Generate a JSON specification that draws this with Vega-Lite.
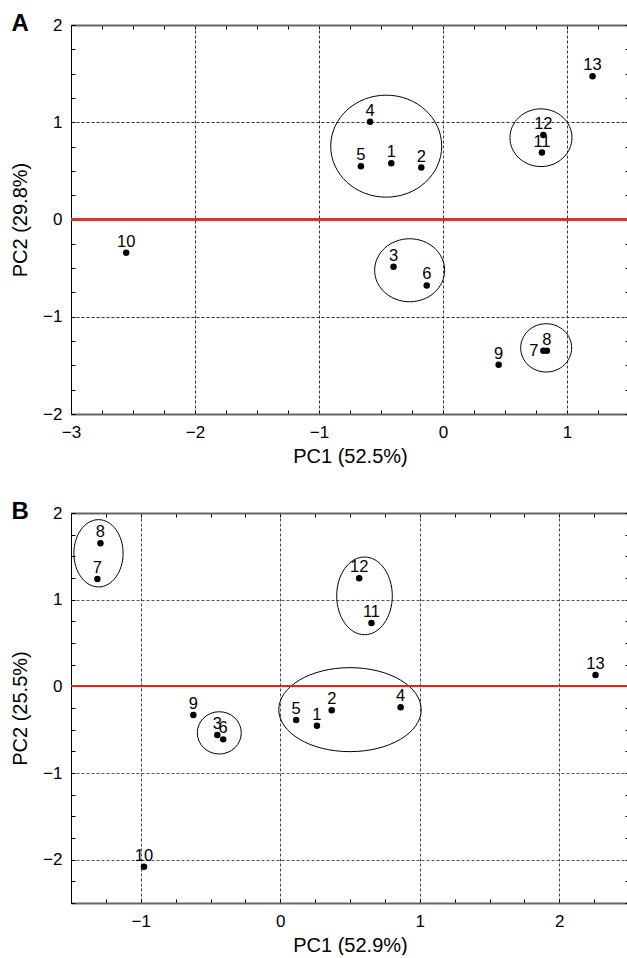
{
  "$schema": "https://vega.github.io/schema/vega-lite/v6.json",
  "padding": {"left": 10, "top": 12, "right": 0, "bottom": 0},
  "spacing": 34,
  "background": "white",
  "config": {
    "view": {"stroke": null},
    "font": "Liberation Sans",
    "axis": {
      "labelFont": "Liberation Sans", "labelFontSize": 17, "labelColor": "#000",
      "titleFont": "Liberation Sans", "titleFontSize": 20, "titleFontWeight": "normal", "titleColor": "#000",
      "tickColor": "#000", "tickSize": -4, "tickWidth": 1,
      "labelOverlap": false, "labelFlush": false, "labelBound": false,
      "gridDash": [3, 2], "gridWidth": 1
    }
  },
  "resolve": {"scale": {"shape": "independent"}},
  "datasets": {
    "pointsA": [
      {"id": "1", "pc1": -0.417, "pc2": 0.579},
      {"id": "2", "pc1": -0.175, "pc2": 0.534},
      {"id": "3", "pc1": -0.399, "pc2": -0.485},
      {"id": "4", "pc1": -0.588, "pc2": 1.005},
      {"id": "5", "pc1": -0.662, "pc2": 0.548},
      {"id": "6", "pc1": -0.131, "pc2": -0.678},
      {"id": "7", "pc1": 0.809, "pc2": -1.349},
      {"id": "8", "pc1": 0.838, "pc2": -1.349},
      {"id": "9", "pc1": 0.449, "pc2": -1.493},
      {"id": "10", "pc1": -2.555, "pc2": -0.342},
      {"id": "11", "pc1": 0.798, "pc2": 0.688},
      {"id": "12", "pc1": 0.809, "pc2": 0.870},
      {"id": "13", "pc1": 1.206, "pc2": 1.473}
    ],
    "ellipsesA": [
      {"grp": "E1", "cx": -0.458, "cy": 0.754},
      {"grp": "E2", "cx": 0.790, "cy": 0.841},
      {"grp": "E3", "cx": -0.269, "cy": -0.522},
      {"grp": "E4", "cx": 0.832, "cy": -1.320}
    ],
    "pointsB": [
      {"id": "1", "pc1": 0.263, "pc2": -0.454},
      {"id": "2", "pc1": 0.369, "pc2": -0.277},
      {"id": "3", "pc1": -0.451, "pc2": -0.562},
      {"id": "4", "pc1": 0.863, "pc2": -0.242},
      {"id": "5", "pc1": 0.114, "pc2": -0.388},
      {"id": "6", "pc1": -0.409, "pc2": -0.612},
      {"id": "7", "pc1": -1.311, "pc2": 1.238},
      {"id": "8", "pc1": -1.289, "pc2": 1.65},
      {"id": "9", "pc1": -0.623, "pc2": -0.331},
      {"id": "10", "pc1": -0.977, "pc2": -2.081},
      {"id": "11", "pc1": 0.654, "pc2": 0.731},
      {"id": "12", "pc1": 0.566, "pc2": 1.246},
      {"id": "13", "pc1": 2.26, "pc2": 0.131}
    ],
    "ellipsesB": [
      {"grp": "E1", "cx": -1.303, "cy": 1.535},
      {"grp": "E2", "cx": 0.604, "cy": 1.044},
      {"grp": "E3", "cx": -0.437, "cy": -0.537},
      {"grp": "E4", "cx": 0.50, "cy": -0.269}
    ]
  },
  "vconcat": [
    {
      "width": 558, "height": 389,
      "title": {"text": "A", "anchor": "start", "frame": "bounds", "fontSize": 24, "fontWeight": "bold", "font": "Liberation Sans", "color": "#000", "offset": 0, "dy": 20, "dx": 1},
      "resolve": {"axis": {"x": "independent", "y": "independent"}},
      "layer": [
        {
          "data": {"name": "pointsA"},
          "mark": {"type": "point", "filled": true, "color": "#000", "opacity": 1, "size": 42},
          "encoding": {
            "x": {"field": "pc1", "type": "quantitative", "scale": {"domain": [-3, 1.5], "nice": false, "zero": false},
                  "axis": {"orient": "bottom", "title": "PC1 (52.5%)", "values": [-3,-2.75,-2.5,-2.25,-2,-1.75,-1.5,-1.25,-1,-0.75,-0.5,-0.25,0,0.25,0.5,0.75,1,1.25,1.5],
                           "labelExpr": "datum.value % 1 === 0 ? format(datum.value, 'd') : ''",
                           "grid": true,
                           "gridColor": {"condition": {"test": "datum.value % 1 === 0", "value": "#333"}, "value": "transparent"},
                           "domainColor": "#666", "domainWidth": 2, "labelPadding": 14, "titlePadding": 6}},
            "y": {"field": "pc2", "type": "quantitative", "scale": {"domain": [-2, 2], "nice": false, "zero": false},
                  "axis": {"orient": "left", "title": "PC2 (29.8%)", "values": [-2,-1.75,-1.5,-1.25,-1,-0.75,-0.5,-0.25,0,0.25,0.5,0.75,1,1.25,1.5,1.75,2],
                           "labelExpr": "datum.value % 1 === 0 ? format(datum.value, 'd') : ''",
                           "grid": true,
                           "gridColor": {"condition": {"test": "datum.value % 1 === 0 && datum.value !== 0", "value": "#333"}, "value": "transparent"},
                           "domainColor": "#000", "domainWidth": 1, "labelPadding": 13, "titlePadding": 12}}
          }
        },
        {
          "data": {"name": "ellipsesA"},
          "mark": {"type": "point", "filled": false, "stroke": "#000", "strokeWidth": 1, "opacity": 1, "size": 10000},
          "encoding": {
            "x": {"field": "cx", "type": "quantitative", "scale": {"domain": [-3, 1.5], "nice": false, "zero": false},
                  "axis": {"orient": "top", "title": null, "labels": false, "grid": false, "values": [-3,-2.75,-2.5,-2.25,-2,-1.75,-1.5,-1.25,-1,-0.75,-0.5,-0.25,0,0.25,0.5,0.75,1,1.25,1.5], "domainColor": "#666", "domainWidth": 2}},
            "y": {"field": "cy", "type": "quantitative", "scale": {"domain": [-2, 2], "nice": false, "zero": false},
                  "axis": {"orient": "right", "title": null, "labels": false, "grid": false, "values": [-2,-1.75,-1.5,-1.25,-1,-0.75,-0.5,-0.25,0,0.25,0.5,0.75,1,1.25,1.5,1.75,2], "domainColor": "#000", "domainWidth": 1}},
            "shape": {"field": "grp", "type": "nominal", "legend": null,
                      "scale": {"domain": ["E1", "E2", "E3", "E4"],
                                "range": ["M -1.11 0 A 1.11 1.02 0 1 0 1.11 0 A 1.11 1.02 0 1 0 -1.11 0 Z",
                                          "M -0.62 0 A 0.62 0.577 0 1 0 0.62 0 A 0.62 0.577 0 1 0 -0.62 0 Z",
                                          "M -0.70 0 A 0.70 0.63 0 1 0 0.70 0 A 0.70 0.63 0 1 0 -0.70 0 Z",
                                          "M -0.51 0 A 0.51 0.483 0 1 0 0.51 0 A 0.51 0.483 0 1 0 -0.51 0 Z"]}}
          }
        },
        {
          "data": {"name": "pointsA"},
          "mark": {"type": "rule", "color": "#cc3838", "strokeWidth": 1.3},
          "encoding": {
            "y": {"datum": 0, "type": "quantitative", "scale": {"domain": [-2, 2], "nice": false, "zero": false}, "axis": null}
          }
        },
        {
          "data": {"name": "pointsA"},
          "transform": [{"filter": "datum.id !== '7'"}],
          "mark": {"type": "text", "fontSize": 16.5, "font": "Liberation Sans", "color": "#000", "align": "center", "baseline": "alphabetic", "dy": -6},
          "encoding": {
            "x": {"field": "pc1", "type": "quantitative", "scale": {"domain": [-3, 1.5], "nice": false, "zero": false}, "axis": null},
            "y": {"field": "pc2", "type": "quantitative", "scale": {"domain": [-2, 2], "nice": false, "zero": false}, "axis": null},
            "text": {"field": "id"}
          }
        },
        {
          "data": {"name": "pointsA"},
          "transform": [{"filter": "datum.id === '7'"}],
          "mark": {"type": "text", "fontSize": 16.5, "font": "Liberation Sans", "color": "#000", "align": "right", "baseline": "middle", "dx": -5},
          "encoding": {
            "x": {"field": "pc1", "type": "quantitative", "scale": {"domain": [-3, 1.5], "nice": false, "zero": false}, "axis": null},
            "y": {"field": "pc2", "type": "quantitative", "scale": {"domain": [-2, 2], "nice": false, "zero": false}, "axis": null},
            "text": {"field": "id"}
          }
        }
      ]
    },
    {
      "width": 558, "height": 390,
      "title": {"text": "B", "anchor": "start", "frame": "bounds", "fontSize": 24, "fontWeight": "bold", "font": "Liberation Sans", "color": "#000", "offset": 0, "dy": 20, "dx": 1},
      "resolve": {"axis": {"x": "independent", "y": "independent"}},
      "layer": [
        {
          "data": {"name": "pointsB"},
          "mark": {"type": "point", "filled": true, "color": "#000", "opacity": 1, "size": 42},
          "encoding": {
            "x": {"field": "pc1", "type": "quantitative", "scale": {"domain": [-1.5, 2.5], "nice": false, "zero": false},
                  "axis": {"orient": "bottom", "title": "PC1 (52.9%)", "values": [-1.5,-1.25,-1,-0.75,-0.5,-0.25,0,0.25,0.5,0.75,1,1.25,1.5,1.75,2,2.25,2.5],
                           "labelExpr": "datum.value % 1 === 0 ? format(datum.value, 'd') : ''",
                           "grid": true,
                           "gridColor": {"condition": {"test": "datum.value % 1 === 0", "value": "#444"}, "value": "transparent"},
                           "domainColor": "#666", "domainWidth": 2, "labelPadding": 14, "titlePadding": 6}},
            "y": {"field": "pc2", "type": "quantitative", "scale": {"domain": [-2.5, 2], "nice": false, "zero": false},
                  "axis": {"orient": "left", "title": "PC2 (25.5%)", "values": [-2.5,-2.25,-2,-1.75,-1.5,-1.25,-1,-0.75,-0.5,-0.25,0,0.25,0.5,0.75,1,1.25,1.5,1.75,2],
                           "labelExpr": "datum.value % 1 === 0 ? format(datum.value, 'd') : ''",
                           "grid": true,
                           "gridColor": {"condition": {"test": "datum.value % 1 === 0 && datum.value !== 0", "value": "#555"}, "value": "transparent"},
                           "domainColor": "#000", "domainWidth": 1, "labelPadding": 13, "titlePadding": 12}}
          }
        },
        {
          "data": {"name": "ellipsesB"},
          "mark": {"type": "point", "filled": false, "stroke": "#000", "strokeWidth": 1, "opacity": 1, "size": 10000},
          "encoding": {
            "x": {"field": "cx", "type": "quantitative", "scale": {"domain": [-1.5, 2.5], "nice": false, "zero": false},
                  "axis": {"orient": "top", "title": null, "labels": false, "grid": false, "values": [-1.5,-1.25,-1,-0.75,-0.5,-0.25,0,0.25,0.5,0.75,1,1.25,1.5,1.75,2,2.25,2.5], "domainColor": "#666", "domainWidth": 2}},
            "y": {"field": "cy", "type": "quantitative", "scale": {"domain": [-2.5, 2], "nice": false, "zero": false},
                  "axis": {"orient": "right", "title": null, "labels": false, "grid": false, "values": [-2.5,-2.25,-2,-1.75,-1.5,-1.25,-1,-0.75,-0.5,-0.25,0,0.25,0.5,0.75,1,1.25,1.5,1.75,2], "domainColor": "#000", "domainWidth": 1}},
            "shape": {"field": "grp", "type": "nominal", "legend": null,
                      "scale": {"domain": ["E1", "E2", "E3", "E4"],
                                "range": ["M -0.492 0 A 0.492 0.673 0 1 0 0.492 0 A 0.492 0.673 0 1 0 -0.492 0 Z",
                                          "M -0.556 0 A 0.556 0.777 0 1 0 0.556 0 A 0.556 0.777 0 1 0 -0.556 0 Z",
                                          "M -0.44 0 A 0.44 0.423 0 1 0 0.44 0 A 0.44 0.423 0 1 0 -0.44 0 Z",
                                          "M -1.424 0 A 1.424 0.84 0 1 0 1.424 0 A 1.424 0.84 0 1 0 -1.424 0 Z"]}}
          }
        },
        {
          "data": {"name": "pointsB"},
          "mark": {"type": "rule", "color": "#e02020", "strokeWidth": 1.3},
          "encoding": {
            "y": {"datum": 0, "type": "quantitative", "scale": {"domain": [-2.5, 2], "nice": false, "zero": false}, "axis": null}
          }
        },
        {
          "data": {"name": "pointsB"},
          "mark": {"type": "text", "fontSize": 16.5, "font": "Liberation Sans", "color": "#000", "align": "center", "baseline": "alphabetic", "dy": -6},
          "encoding": {
            "x": {"field": "pc1", "type": "quantitative", "scale": {"domain": [-1.5, 2.5], "nice": false, "zero": false}, "axis": null},
            "y": {"field": "pc2", "type": "quantitative", "scale": {"domain": [-2.5, 2], "nice": false, "zero": false}, "axis": null},
            "text": {"field": "id"}
          }
        }
      ]
    }
  ]
}
